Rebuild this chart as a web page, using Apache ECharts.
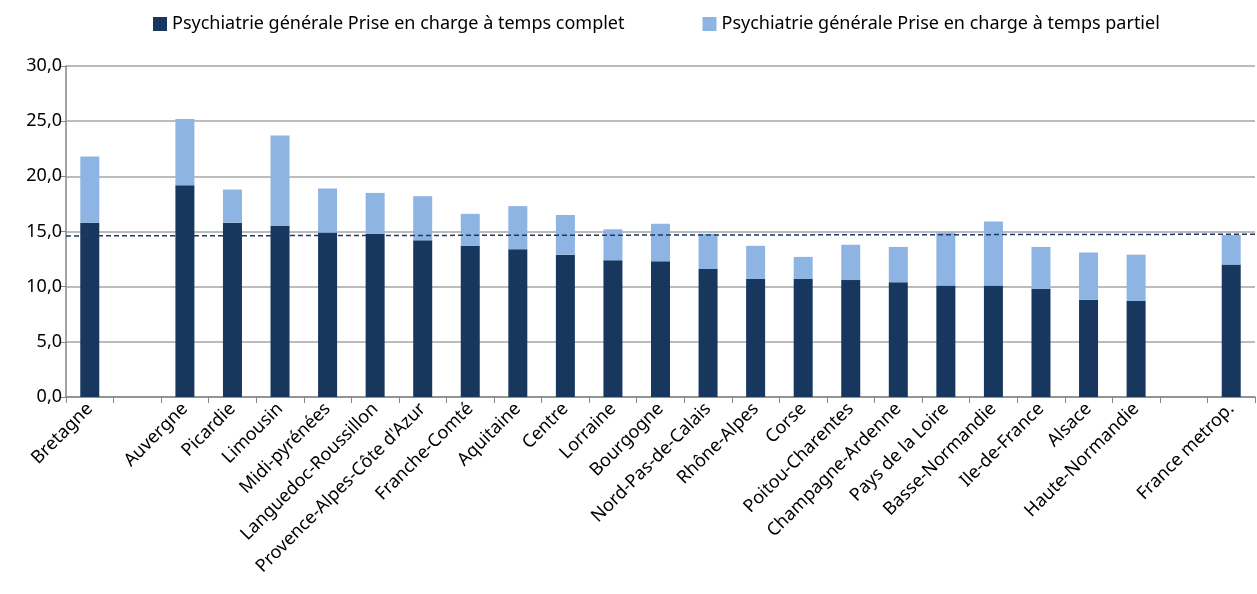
<!DOCTYPE html>
<html>
<head>
<meta charset="utf-8">
<script src="https://cdn.jsdelivr.net/npm/echarts@6/dist/echarts.min.js"></script>
<style>
  html, body { margin: 0; padding: 0; background: #fff; }
  #chart { width: 1257px; height: 594px; }
</style>
</head>
<body>
<div id="chart"></div>
<script>
// regions, with two empty slots kept as in the source sheet
const regions = [
  'Bretagne', '', 'Auvergne', 'Picardie', 'Limousin', 'Midi-pyrénées',
  'Languedoc-Roussillon', "Provence-Alpes-Côte d'Azur", 'Franche-Comté',
  'Aquitaine', 'Centre', 'Lorraine', 'Bourgogne', 'Nord-Pas-de-Calais',
  'Rhône-Alpes', 'Corse', 'Poitou-Charentes', 'Champagne-Ardenne',
  'Pays de la Loire', 'Basse-Normandie', 'Ile-de-France', 'Alsace',
  'Haute-Normandie', '', 'France metrop.'
]

const tempsComplet = [
  15.8, null, 19.2, 15.8, 15.5, 14.9, 14.8, 14.2, 13.7, 13.4, 12.9, 12.4,
  12.3, 11.6, 10.7, 10.7, 10.6, 10.4, 10.1, 10.1, 9.8, 8.8, 8.7, null, 12.0
]

const tempsPartiel = [
  6.0, null, 6.0, 3.0, 8.2, 4.0, 3.7, 4.0, 2.9, 3.9, 3.6, 2.8,
  3.4, 3.2, 3.0, 2.0, 3.2, 3.2, 4.8, 5.8, 3.8, 4.3, 4.2, null, 2.7
]

// reference line (France metrop. total), drawn across the whole plot
const refLine = [[0, 14.6], [25, 14.75]]

const yTicks = { min: 0, max: 30, interval: 5 }

const labelFont = '"Noto Sans", sans-serif'

const chart = echarts.init(document.getElementById('chart'), null, { renderer: 'canvas' })

chart.setOption({
  animation: false,
  textStyle: { fontFamily: labelFont },
  legend: {
    top: 10,
    left: 148,
    itemWidth: 14,
    itemHeight: 14,
    itemGap: 78,
    icon: 'rect',
    textStyle: { fontSize: 18, color: '#000', fontFamily: labelFont },
    data: [
      'Psychiatrie générale Prise en charge à temps complet',
      'Psychiatrie générale Prise en charge à temps partiel'
    ]
  },
  grid: { left: 66, right: 2, top: 66, bottom: 197, containLabel: false },
  xAxis: [
    {
      type: 'category',
      data: regions,
      axisLine: { lineStyle: { color: '#868686', width: 1.5 } },
      axisTick: { show: true, alignWithLabel: false, length: 6, lineStyle: { color: '#868686' } },
      axisLabel: { interval: 0, rotate: 45, fontSize: 18, color: '#000', margin: 9, fontFamily: labelFont }
    },
    { type: 'value', min: 0, max: 25, show: false }
  ],
  yAxis: {
    type: 'value',
    min: yTicks.min,
    max: yTicks.max,
    interval: yTicks.interval,
    axisLine: { show: true, lineStyle: { color: '#868686', width: 1.5 } },
    axisTick: { show: true, length: 6, lineStyle: { color: '#868686' } },
    splitLine: { lineStyle: { color: '#a6a6a6', width: 1.5 } },
    axisLabel: {
      fontSize: 18, color: '#000', margin: 4, fontFamily: labelFont,
      formatter: v => v.toFixed(1).replace('.', ',')
    }
  },
  series: [
    {
      name: 'Psychiatrie générale Prise en charge à temps complet',
      type: 'bar',
      stack: 'total',
      barWidth: 19,
      data: tempsComplet,
      itemStyle: { color: '#17375e' }
    },
    {
      name: 'Psychiatrie générale Prise en charge à temps partiel',
      type: 'bar',
      stack: 'total',
      barWidth: 19,
      data: tempsPartiel,
      itemStyle: { color: '#8eb4e3' }
    },
    {
      type: 'line',
      xAxisIndex: 1,
      data: refLine,
      symbol: 'none',
      silent: true,
      z: 5,
      lineStyle: { color: '#1f3864', width: 1.5, type: [5, 3] }
    }
  ]
})
</script>
</body>
</html>
